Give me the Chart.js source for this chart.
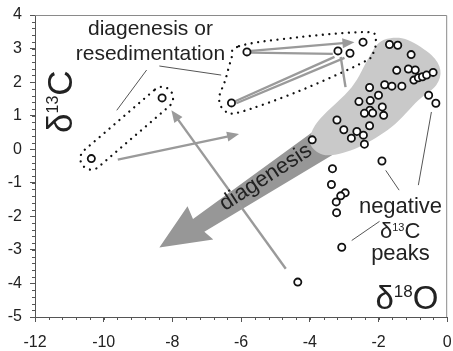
<!DOCTYPE html>
<html lang="en">
<head>
<meta charset="UTF-8" />
<title>d13C vs d18O</title>
<script src="https://cdn.jsdelivr.net/npm/chart.js@4.4.1/dist/chart.umd.min.js"></script>
<style>
    html, body { margin: 0; padding: 0; background: #fff; }
    canvas { display: block; }
</style>
</head>
<body>
<canvas id="chart" width="453" height="351"></canvas>
<script>
// sample values
const d18O = [-10.36, -8.30, -5.83, -6.28, -2.45, -3.18, -2.83, -1.68, -1.44, -1.05,
              -1.47, -1.13, -0.93, -0.97, -0.84, -0.72, -0.60, -0.41, -2.26, -1.82,
              -1.61, -1.32, -2.00, -2.57, -2.24, -1.89, -2.25, -2.41, -2.17, -1.85,
              -3.21, -2.26, -3.01, -2.63, -2.79, -2.44, -2.41, -3.93, -0.54, -0.33,
              -1.90, -3.34, -3.37, -2.97, -3.10, -3.23, -3.22, -3.07, -4.35];
const d13C = [-0.28, 1.53, 2.90, 1.38, 3.19, 2.93, 2.86, 3.12, 3.10, 2.82,
              2.35, 2.39, 2.36, 2.06, 2.13, 2.16, 2.21, 2.29, 1.84, 1.92,
              1.88, 1.88, 1.61, 1.42, 1.45, 1.26, 1.16, 1.07, 1.08, 1.01,
              0.87, 0.70, 0.58, 0.53, 0.33, 0.42, 0.15, 0.28, 1.61, 1.37,
              -0.35, -0.58, -1.05, -1.30, -1.39, -1.57, -1.89, -2.92, -3.96];

const xTicks = [-12, -10, -8, -6, -4, -2, 0];
const yTicks = [-5, -4, -3, -2, -1, 0, 1, 2, 3, 4];

// annotation shapes, in data units (d18O, d13C)
const blob = [[-2.0, 3.16], [-1.65, 3.31], [-1.13, 3.25], [-0.46, 2.81], [-0.20, 2.36],
              [-0.32, 1.91], [-0.84, 1.46], [-1.62, 0.66], [-2.58, 0.06], [-3.45, -0.18],
              [-3.91, 0.03], [-3.97, 0.42], [-3.68, 0.93], [-2.78, 1.85], [-2.29, 2.72]];
const bigArrow = [[-8.38, -2.93], [-7.56, -1.70], [-7.40, -2.08], [-3.40, 0.90],
                  [-2.87, 0.12], [-7.07, -2.46], [-6.81, -2.69]];
const topOutline = [[-6.06, 3.07], [-4.32, 3.34], [-2.38, 3.49], [-2.09, 3.31], [-2.14, 2.90],
                    [-2.43, 2.60], [-4.32, 1.73], [-6.06, 1.10], [-6.49, 1.16], [-6.64, 1.52],
                    [-6.46, 2.06], [-6.29, 2.66]];
const grayArrows = [
    [[-9.59, -0.31], [-6.06, 0.45], true],
    [[-4.70, -3.56], [-8.03, 1.16], true],
    [[-5.71, 2.93], [-2.70, 3.19], true],
    [[-5.71, 2.88], [-3.33, 2.84], false],
    [[-6.17, 1.43], [-3.28, 2.75], false],
    [[-6.14, 1.37], [-2.99, 2.72], false],
    [[-3.10, 2.75], [-2.96, 1.85], false]
];
const thinLines = [
    [[-8.75, 2.36], [-9.62, 1.16]],
    [[-8.38, 2.48], [-6.58, 2.21]],
    [[-1.79, -0.63], [-1.40, -1.22]],
    [[-0.46, 1.11], [-0.84, -1.07]],
    [[-1.97, -2.15], [-2.78, -2.72]]
];

const FONT = '"Liberation Sans", Arial, sans-serif';

function px(chart, p) {
    return [chart.scales.x.getPixelForValue(p[0]), chart.scales.y.getPixelForValue(p[1])];
}

function smoothPath(ctx, pts) {
    const n = pts.length;
    ctx.moveTo(pts[0][0], pts[0][1]);
    for (let i = 0; i < n; i++) {
        const p0 = pts[(i - 1 + n) % n], p1 = pts[i], p2 = pts[(i + 1) % n], p3 = pts[(i + 2) % n];
        ctx.bezierCurveTo(
            p1[0] + (p2[0] - p0[0]) / 6, p1[1] + (p2[1] - p0[1]) / 6,
            p2[0] - (p3[0] - p1[0]) / 6, p2[1] - (p3[1] - p1[1]) / 6,
            p2[0], p2[1]);
    }
    ctx.closePath();
}

function drawArrow(ctx, a, b, head) {
    const ang = Math.atan2(b[1] - a[1], b[0] - a[0]);
    const L = head ? 12 : 0;
    ctx.beginPath();
    ctx.moveTo(a[0], a[1]);
    ctx.lineTo(b[0] - Math.cos(ang) * L * 0.7, b[1] - Math.sin(ang) * L * 0.7);
    ctx.stroke();
    if (head) {
        const bx = b[0] - Math.cos(ang) * L, by = b[1] - Math.sin(ang) * L;
        const w = 5;
        ctx.beginPath();
        ctx.moveTo(b[0], b[1]);
        ctx.lineTo(bx + Math.sin(ang) * w, by - Math.cos(ang) * w);
        ctx.lineTo(bx - Math.sin(ang) * w, by + Math.cos(ang) * w);
        ctx.closePath();
        ctx.fill();
    }
}

// δ + superscript + element, left aligned at baseline
function deltaText(ctx, x, y, size, supSize, iso, elem) {
    ctx.textAlign = 'left';
    ctx.textBaseline = 'alphabetic';
    ctx.font = size + 'px ' + FONT;
    ctx.fillText('δ', x, y);
    x += ctx.measureText('δ').width;
    ctx.font = supSize + 'px ' + FONT;
    ctx.fillText(iso, x, y - 0.716 * (size - supSize));
    x += ctx.measureText(iso).width;
    ctx.font = size + 'px ' + FONT;
    ctx.fillText(elem, x, y);
}
function deltaWidth(ctx, size, supSize, iso, elem) {
    ctx.font = size + 'px ' + FONT;
    let w = ctx.measureText('δ' + elem).width;
    ctx.font = supSize + 'px ' + FONT;
    return w + ctx.measureText(iso).width;
}

const annotations = {
    id: 'annotations',
    beforeDatasetsDraw(chart) {
        const ctx = chart.ctx;
        ctx.save();

        // big diagenesis arrow
        ctx.fillStyle = '#979797';
        ctx.beginPath();
        bigArrow.map(p => px(chart, p)).forEach((p, i) => i ? ctx.lineTo(p[0], p[1]) : ctx.moveTo(p[0], p[1]));
        ctx.closePath();
        ctx.fill();

        // shaded field
        ctx.fillStyle = '#c9c9c9';
        ctx.beginPath();
        smoothPath(ctx, blob.map(p => px(chart, p)));
        ctx.fill();

        // dotted outlines
        ctx.strokeStyle = '#111';
        ctx.lineWidth = 2.3;
        ctx.lineCap = 'round';
        ctx.setLineDash([0.01, 6.5]);
        ctx.beginPath();
        smoothPath(ctx, topOutline.map(p => px(chart, p)));
        ctx.stroke();

        const a = px(chart, [d18O[0], d13C[0]]), b = px(chart, [d18O[1], d13C[1]]);
        const th = Math.atan2(b[1] - a[1], b[0] - a[0]), r = 11;
        ctx.beginPath();
        ctx.arc(b[0], b[1], r, th - Math.PI / 2, th + Math.PI / 2);
        ctx.arc(a[0], a[1], r, th + Math.PI / 2, th + 3 * Math.PI / 2);
        ctx.closePath();
        ctx.stroke();
        ctx.setLineDash([]);

        // gray arrows
        ctx.strokeStyle = '#9a9a9a';
        ctx.fillStyle = '#9a9a9a';
        ctx.lineWidth = 2.4;
        ctx.lineCap = 'butt';
        grayArrows.forEach(g => drawArrow(ctx, px(chart, g[0]), px(chart, g[1]), g[2]));

        // leader lines
        ctx.strokeStyle = '#555';
        ctx.lineWidth = 1;
        thinLines.forEach(l => {
            const p = px(chart, l[0]), q = px(chart, l[1]);
            ctx.beginPath();
            ctx.moveTo(p[0], p[1]);
            ctx.lineTo(q[0], q[1]);
            ctx.stroke();
        });
        ctx.restore();
    },
    afterDatasetsDraw(chart) {
        const ctx = chart.ctx;
        const { left, right, top, bottom } = chart.chartArea;
        ctx.save();

        // frame on top and right
        ctx.strokeStyle = '#8a8a8a';
        ctx.lineWidth = 1;
        ctx.beginPath();
        ctx.moveTo(left, top + 0.5);
        ctx.lineTo(right - 0.5, top + 0.5);
        ctx.lineTo(right - 0.5, bottom);
        ctx.stroke();

        // minor ticks
        ctx.strokeStyle = '#555';
        const sx = chart.scales.x, sy = chart.scales.y;
        ctx.beginPath();
        for (let v = -12; v <= 0.001; v += 0.4) {
            const x = Math.round(sx.getPixelForValue(v)) + 0.5;
            ctx.moveTo(x, bottom);
            ctx.lineTo(x, bottom + 3);
        }
        for (let v = -5; v <= 4.001; v += 0.2) {
            const y = Math.round(sy.getPixelForValue(v)) + 0.5;
            ctx.moveTo(left, y);
            ctx.lineTo(left - 3, y);
        }
        ctx.stroke();

        ctx.fillStyle = '#222';
        ctx.textBaseline = 'alphabetic';

        // labels
        ctx.font = '21px ' + FONT;
        ctx.textAlign = 'center';
        let p = px(chart, [-8.64, 3.40]);
        ctx.fillText('diagenesis or', p[0], p[1]);
        p = px(chart, [-8.64, 2.66]);
        ctx.fillText('resedimentation', p[0], p[1]);

        ctx.font = '22px ' + FONT;
        p = px(chart, [-1.36, -1.91]);
        ctx.fillText('negative', p[0], p[1]);
        p = px(chart, [-1.36, -3.31]);
        ctx.fillText('peaks', p[0], p[1]);
        p = px(chart, [-1.37, -2.66]);
        let w = deltaWidth(ctx, 22, 11, '13', 'C');
        deltaText(ctx, p[0] - w / 2, p[1], 22, 11, '13', 'C');

        // diagenesis along the arrow
        p = px(chart, [-5.28, -0.84]);
        ctx.save();
        ctx.translate(p[0], p[1]);
        ctx.rotate(-33 * Math.PI / 180);
        ctx.font = '22px ' + FONT;
        ctx.textAlign = 'center';
        ctx.textBaseline = 'middle';
        ctx.fillText('diagenesis', 0, 0);
        ctx.restore();

        // axis titles
        p = px(chart, [-2.09, -4.75]);
        deltaText(ctx, p[0], p[1], 33, 17, '18', 'O');

        ctx.save();
        ctx.translate(72, 133);
        ctx.rotate(-Math.PI / 2);
        deltaText(ctx, 0, 0, 35, 16, '13', 'C');
        ctx.restore();

        ctx.restore();
    }
};

new Chart('chart', {
    type: 'scatter',
    data: {
        datasets: [{
            data: d18O.map((x, i) => ({ x: x, y: d13C[i] })),
            pointStyle: 'circle',
            pointRadius: 3.6,
            pointBorderWidth: 1.8,
            borderColor: '#111',
            backgroundColor: '#fff'
        }]
    },
    options: {
        responsive: false,
        animation: false,
        layout: { padding: { top: 15, right: 4, left: 0, bottom: 0 } },
        plugins: { legend: { display: false }, tooltip: { enabled: false } },
        scales: {
            x: {
                type: 'linear',
                min: -12,
                max: 0,
                afterBuildTicks: s => { s.ticks = xTicks.map(v => ({ value: v })); },
                afterFit: s => { s.height = 34; s.paddingLeft = 0; s.paddingRight = 0; },
                ticks: { font: { size: 16, family: FONT }, color: '#222', padding: 11, maxRotation: 0 },
                grid: { drawOnChartArea: false, tickLength: 5, color: '#555' },
                border: { color: '#555' }
            },
            y: {
                min: -5,
                max: 4,
                afterBuildTicks: s => { s.ticks = yTicks.map(v => ({ value: v })); },
                afterFit: s => { s.width = 35; s.paddingTop = 0; s.paddingBottom = 0; },
                ticks: { font: { size: 16, family: FONT }, color: '#222', padding: 8 },
                grid: { drawOnChartArea: false, tickLength: 5, color: '#555' },
                border: { color: '#555' }
            }
        }
    },
    plugins: [annotations]
});
</script>
</body>
</html>
